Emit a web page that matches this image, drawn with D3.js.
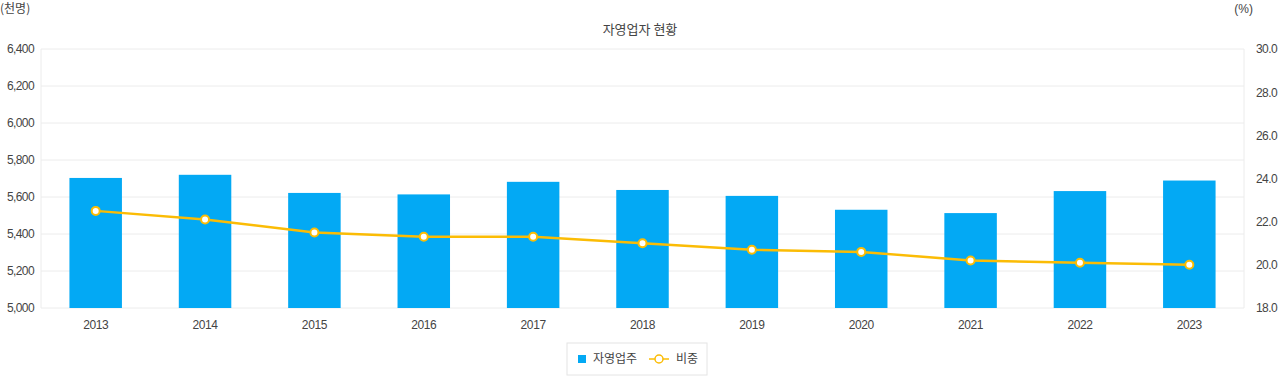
<!DOCTYPE html>
<html>
<head>
<meta charset="utf-8">
<script src="https://cdn.jsdelivr.net/npm/d3@7"></script>
<style>
  body { margin: 0; background: #fff; }
  text { font-family: "Liberation Sans", Arial, "Noto Sans CJK KR", sans-serif; fill: #444; }
  .kr { font-family: "Noto Sans CJK KR", sans-serif; }
</style>
</head>
<body>
<svg id="chart"></svg>
<script>
const years = ["2013", "2014", "2015", "2016", "2017", "2018", "2019", "2020", "2021", "2022", "2023"];
const owners = [5703, 5720, 5622, 5614, 5682, 5638, 5606, 5531, 5513, 5632, 5689];
const share = [22.5, 22.1, 21.5, 21.3, 21.3, 21.0, 20.7, 20.6, 20.2, 20.1, 20.0];
const leftTicks = [5000, 5200, 5400, 5600, 5800, 6000, 6200, 6400];
const rightTicks = [18, 20, 22, 24, 26, 28, 30];

const width = 1280, height = 376;
const margin = { top: 49, right: 36, bottom: 68, left: 41 };
const w = width - margin.left - margin.right;
const h = height - margin.top - margin.bottom;

const svg = d3.select("#chart").attr("width", width).attr("height", height);
const g = svg.append("g").attr("transform", `translate(${margin.left},${margin.top})`);

const x = d3.scaleBand().domain(years).range([0, w]).paddingInner(0.52).paddingOuter(0.26);
const yL = d3.scaleLinear().domain([5000, 6400]).range([h, 0]);
const yR = d3.scaleLinear().domain([18, 30]).range([h, 0]);

// gridlines
g.append("g")
  .selectAll("line")
  .data(leftTicks)
  .join("line")
  .attr("x1", 0).attr("x2", w)
  .attr("y1", d => yL(d)).attr("y2", d => yL(d))
  .attr("stroke", "#ececec");
g.append("line").attr("x1", 0).attr("x2", 0).attr("y1", 0).attr("y2", h).attr("stroke", "#ececec");
g.append("line").attr("x1", w).attr("x2", w).attr("y1", 0).attr("y2", h).attr("stroke", "#ececec");

// left axis
const axL = g.append("g").call(d3.axisLeft(yL).tickValues(leftTicks).tickFormat(d3.format(",")).tickSize(0).tickPadding(7));
axL.select(".domain").remove();
axL.selectAll("text").style("font-size", "12px").attr("fill", "#444").attr("letter-spacing", "-0.6px");

// right axis
const axR = g.append("g").attr("transform", `translate(${w},0)`)
  .call(d3.axisRight(yR).tickValues(rightTicks).tickFormat(d3.format(".1f")).tickSize(0).tickPadding(12));
axR.select(".domain").remove();
axR.selectAll("text").style("font-size", "12px").attr("fill", "#444").attr("letter-spacing", "-0.6px");

// x axis
const axX = g.append("g").attr("transform", `translate(0,${h})`)
  .call(d3.axisBottom(x).tickSize(0).tickPadding(12));
axX.select(".domain").remove();
axX.selectAll("text").style("font-size", "12px").attr("fill", "#444").attr("letter-spacing", "-0.4px");

// bars
g.append("g")
  .selectAll("rect")
  .data(years)
  .join("rect")
  .attr("x", (d) => x(d))
  .attr("y", (d, i) => yL(owners[i]))
  .attr("width", x.bandwidth())
  .attr("height", (d, i) => h - yL(owners[i]))
  .attr("fill", "#03a9f4");

// line
const cx = (d) => x(d) + x.bandwidth() / 2;
g.append("path")
  .datum(years)
  .attr("fill", "none")
  .attr("stroke", "#fbbc05")
  .attr("stroke-width", 2.5)
  .attr("d", d3.line().x(cx).y((d, i) => yR(share[i])));

g.append("g")
  .selectAll("circle")
  .data(years)
  .join("circle")
  .attr("cx", cx)
  .attr("cy", (d, i) => yR(share[i]))
  .attr("r", 4)
  .attr("fill", "#fff")
  .attr("stroke", "#fbbc05")
  .attr("stroke-width", 2);

// titles
svg.append("text").attr("class", "kr").attr("x", 640).attr("y", 34)
  .attr("text-anchor", "middle").style("font-size", "13px").attr("fill", "#333").text("자영업자 현황");
svg.append("text").attr("class", "kr").attr("x", 0).attr("y", 13)
  .style("font-size", "12px").text("(천명)");
svg.append("text").attr("x", 1253).attr("y", 13).attr("text-anchor", "end")
  .style("font-size", "12px").text("(%)");

// legend
const lg = svg.append("g").attr("transform", "translate(567,343)");
lg.append("rect").attr("width", 140).attr("height", 32).attr("fill", "#fff").attr("stroke", "#e4e4e4");
lg.append("rect").attr("x", 11).attr("y", 12).attr("width", 8).attr("height", 8).attr("fill", "#03a9f4");
lg.append("text").attr("class", "kr").attr("x", 26).attr("y", 20).style("font-size", "12px").attr("fill", "#555").text("자영업주");
lg.append("line").attr("x1", 82).attr("x2", 102).attr("y1", 16).attr("y2", 16).attr("stroke", "#fbbc05").attr("stroke-width", 1.5);
lg.append("circle").attr("cx", 92).attr("cy", 16).attr("r", 4).attr("fill", "#fff").attr("stroke", "#fbbc05").attr("stroke-width", 1.5);
lg.append("text").attr("class", "kr").attr("x", 109).attr("y", 20).style("font-size", "12px").attr("fill", "#555").text("비중");
</script>
</body>
</html>
